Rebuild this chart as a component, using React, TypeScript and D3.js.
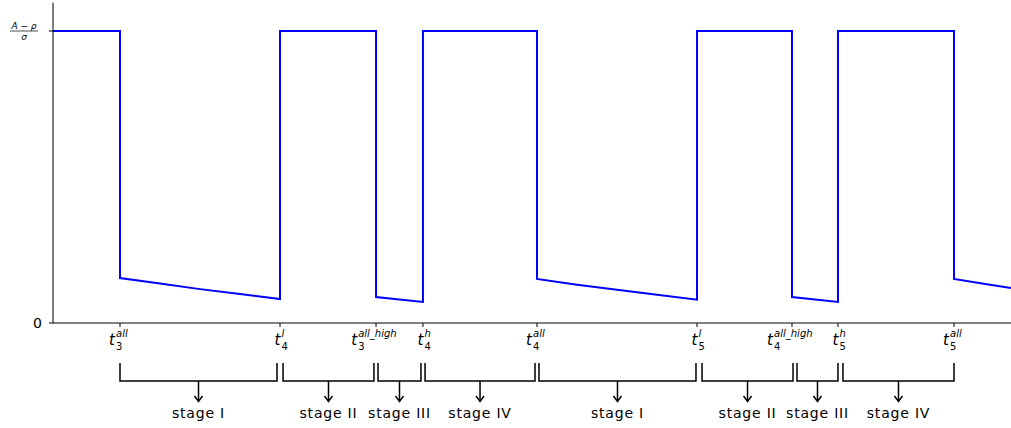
import { useMemo } from 'react'
import * as d3 from 'd3'

// switching times (axis units, one period = 4)
const tickTimes = [1, 2.535, 3.456, 3.906, 5, 6.535, 7.446, 7.887, 9]
const tickLabels = [
  { sub: '3', sup: 'all' },
  { sub: '4', sup: 'l' },
  { sub: '3', sup: 'all_high' },
  { sub: '4', sup: 'h' },
  { sub: '4', sup: 'all' },
  { sub: '5', sup: 'l' },
  { sub: '4', sup: 'all_high' },
  { sub: '5', sup: 'h' },
  { sub: '5', sup: 'all' }
]
const stageNames = ['stage I', 'stage II', 'stage III', 'stage IV', 'stage I', 'stage II', 'stage III', 'stage IV']
const stageStart = [1, 2.564, 3.475, 3.926, 5.019, 6.583, 7.494, 7.935]
const stageEnd = [2.506, 3.436, 3.887, 4.981, 6.525, 7.456, 7.887, 9]

// signal, normalised so that (A - rho) / sigma = 1
const signalT = [0.357, 1, 1, 1.384, 1.767, 2.151, 2.535, 2.535, 3.456, 3.456, 3.906, 3.906, 5, 5, 5.384, 5.767, 6.151, 6.535, 6.535, 7.446, 7.446, 7.887, 7.887, 9, 9, 9.27, 9.547]
const signalV = [1, 1, 0.154, 0.135, 0.116, 0.099, 0.082, 1, 1, 0.089, 0.072, 1, 1, 0.151, 0.131, 0.114, 0.097, 0.08, 1, 1, 0.089, 0.072, 1, 1, 0.151, 0.135, 0.12]

const W = 1011
const H = 428
const FONT = 'DejaVu Sans, sans-serif'

export default function App() {
  const x = useMemo(() => d3.scaleLinear().domain([1, 9]).range([120, 954]), [])
  const y = useMemo(() => d3.scaleLinear().domain([0, 1]).range([323, 31]), [])
  const x0 = x.invert(53)
  const x1 = x.invert(1011)

  const line = d3.line<number>()
    .x((_, i) => x(signalT[i]))
    .y(d => y(d))

  const base = y(0)
  const bracketTop = 363
  const bracketBot = 381

  return (
    <svg width={W} height={H} style={{ position: 'absolute', left: 0, top: 0, background: '#fff' }}>
      <path d={line(signalV) || ''} fill="none" stroke="#0000ff" strokeWidth={2} strokeLinejoin="miter" />

      {/* spines */}
      <line x1={x(x0)} x2={x(x0)} y1={y(1.097)} y2={base} stroke="#000" strokeWidth={1} />
      <line x1={x(x0)} x2={x(x1)} y1={base} y2={base} stroke="#000" strokeWidth={1} />

      {/* y ticks */}
      {[0, 1].map(v => (
        <line key={v} x1={x(x0) - 4} x2={x(x0)} y1={y(v)} y2={y(v)} stroke="#000" strokeWidth={1} />
      ))}
      <text x={x(x0) - 11} y={y(0) + 5} textAnchor="end" fontFamily={FONT} fontSize={14}>0</text>
      <g fontFamily={FONT} fontStyle="italic" fontSize={9} textAnchor="middle">
        <text x={24} y={y(1) - 2.5}>A − ρ</text>
        <line x1={10} x2={38} y1={y(1)} y2={y(1)} stroke="#000" strokeWidth={0.7} />
        <text x={24} y={y(1) + 8.5}>σ</text>
      </g>

      {/* x ticks */}
      {tickTimes.map((t, i) => {
        const lab = tickLabels[i]
        const px = x(t)
        const supW = lab.sup.length * 5.6
        const totalW = 7 + Math.max(supW, 6)
        const left = px - totalW / 2 + 1
        return (
          <g key={i}>
            <line x1={px} x2={px} y1={base} y2={base + 4} stroke="#000" strokeWidth={1} />
            <text x={left} y={345} fontFamily={FONT} fontStyle="italic" fontSize={15}>t</text>
            <text x={left + 7} y={337} fontFamily={FONT} fontStyle="italic" fontSize={10}>{lab.sup}</text>
            <text x={left + 7} y={349.5} fontFamily={FONT} fontSize={10}>{lab.sub}</text>
          </g>
        )
      })}

      {/* stage brackets */}
      {stageNames.map((name, i) => {
        const a = x(stageStart[i])
        const b = x(stageEnd[i])
        const mid = (a + b) / 2
        return (
          <g key={i} stroke="#000" strokeWidth={1.5} fill="none">
            <path d={`M${a},${bracketTop}V${bracketBot}H${b}V${bracketTop}`} />
            <line x1={mid} x2={mid} y1={bracketBot} y2={401} />
            <path d={`M${mid - 4},${396}L${mid},${401.5}L${mid + 4},${396}`} />
            <text x={mid} y={418} stroke="none" fill="#000" textAnchor="middle" fontFamily={FONT} fontSize={14} letterSpacing={0.8}>{name}</text>
          </g>
        )
      })}
    </svg>
  )
}
